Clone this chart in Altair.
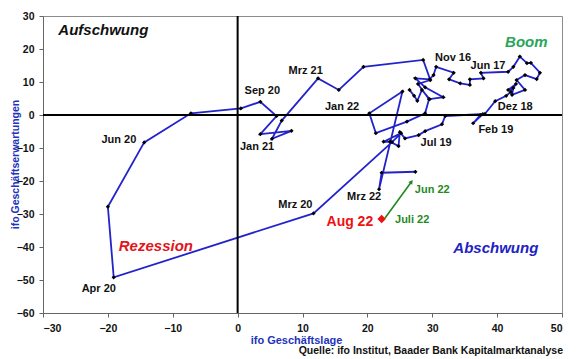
import altair as alt
import pandas as pd

FONT = "Liberation Sans"

# ---- data: ifo Geschäftslage (x) and ifo Geschäftserwartungen (y), monthly ----
months = [
    "Jan 16", "Feb 16", "Mrz 16", "Apr 16", "Mai 16", "Jun 16", "Jul 16", "Aug 16", "Sep 16", "Okt 16", "Nov 16", "Dez 16",
    "Jan 17", "Feb 17", "Mrz 17", "Apr 17", "Mai 17", "Jun 17", "Jul 17", "Aug 17", "Sep 17", "Okt 17", "Nov 17", "Dez 17",
    "Jan 18", "Feb 18", "Mrz 18", "Apr 18", "Mai 18", "Jun 18", "Jul 18", "Aug 18", "Sep 18", "Okt 18", "Nov 18", "Dez 18",
    "Jan 19", "Feb 19", "Mrz 19", "Apr 19", "Mai 19", "Jun 19", "Jul 19", "Aug 19", "Sep 19", "Okt 19", "Nov 19", "Dez 19",
    "Jan 20", "Feb 20", "Mrz 20", "Apr 20", "Mai 20", "Jun 20", "Jul 20", "Aug 20", "Sep 20", "Okt 20", "Nov 20", "Dez 20",
    "Jan 21", "Feb 21", "Mrz 21", "Apr 21", "Mai 21", "Jun 21", "Jul 21", "Aug 21", "Sep 21", "Okt 21", "Nov 21", "Dez 21",
    "Jan 22", "Feb 22", "Mrz 22", "Apr 22", "Mai 22",
]
lage = [
    26.5, 27.2, 27.7, 28.4, 29.6, 31.7, 28.9, 27.4, 29.6, 30.2, 30.6, 33.3,
    32.6, 34.3, 35.8, 35.8, 37.9, 37.5, 41.7, 42.5, 43.5, 44.6, 45.2, 46.6,
    46.1, 44.3, 43.0, 44.3, 42.3, 42.5, 41.7, 42.9, 42.1, 41.4, 39.7, 38.1,
    37.4, 36.3, 37.8, 32.0, 31.5, 28.9, 27.9, 25.8, 25.0, 24.8, 23.5, 22.5,
    25.2, 23.8, 11.7, -19.1, -20.0, -14.4, -7.2, 0.5, 3.5, 6.0, 3.5, 8.3,
    5.3, 6.8, 12.4, 15.6, 19.4, 28.6, 29.7, 27.8, 29.5, 28.9, 26.1, 21.3,
    20.3, 25.4, 21.8, 22.2, 27.4,
]
erwartungen = [
    7.6, 5.8, 4.3, 7.6, 4.8, 5.4, 8.4, 11.1, 10.8, 12.1, 14.6, 12.8,
    10.8, 9.6, 9.1, 10.8, 11.1, 12.8, 13.1, 14.6, 17.7, 15.7, 15.8, 12.8,
    10.9, 12.1, 10.6, 7.6, 6.1, 8.2, 7.6, 9.4, 7.0, 5.8, 4.2, 0.3,
    0.0, -2.5, 0.3, -0.3, -2.8, -4.9, -6.1, -7.1, -5.2, -9.4, -8.1, -8.1,
    -5.5, -8.2, -29.8, -49.2, -27.8, -8.3, 0.5, 2.0, 4.0, -0.3, -5.8, -4.8,
    -7.2, -1.7, 11.1, 7.6, 14.6, 16.7, 10.6, 9.4, 4.8, 0.5, -2.0, -5.5,
    0.5, 7.1, -22.5, -17.5, -17.2,
]

# latest months (green segment) and current month (red)
recent_months = ["Jun 22", "Jul 22"]
recent_lage = [26.8, 22.7]
recent_erw = [-20.2, -31.3]
current_month = ["Aug 22"]
current_lage = [22.2]
current_erw = [-31.5]

# month annotations (text, anchor in data units)
lbl_text = ["Sep 20", "Mrz 21", "Nov 16", "Jun 17", "Jan 22", "Dez 18", "Feb 19", "Jul 19",
            "Jan 21", "Jun 20", "Mrz 20", "Mrz 22", "Apr 20"]
lbl_x = [3.8, 10.5, 33.2, 38.6, 16.1, 42.8, 39.8, 30.6, 3.0, -18.3, 8.9, 19.5, -21.4]
lbl_y = [7.3, 13.3, 17.3, 14.8, 2.4, 2.4, -4.5, -8.5, -9.7, -7.6, -27.3, -24.8, -52.7]

green_text = ["Jun 22", "Juli 22"]
green_x = [30.0, 26.9]
green_y = [-22.7, -31.8]

red_text = ["Aug 22"]
red_x = [17.3]
red_y = [-32.4]

quad_text = ["Aufschwung", "Boom", "Rezession", "Abschwung"]
quad_x = [-20.7, 44.5, -12.6, 39.8]
quad_y = [25.8, 22.1, -39.7, -40.3]
quad_color = ["#111111", "#2aa55a", "#e3141b", "#2121c4"]

zero_line = [0]
x_ticks = [-30, -20, -10, 0, 10, 20, 30, 40, 50]
y_ticks = [-60, -50, -40, -30, -20, -10, 0, 10, 20, 30]

# ---- tables ----
df = pd.DataFrame({"i": range(len(months)), "monat": months, "lage": lage, "erw": erwartungen})
df_recent = pd.DataFrame({"i": range(2), "monat": recent_months, "lage": recent_lage, "erw": recent_erw})
df_arrow = df_recent.iloc[[0]]
df_cur = pd.DataFrame({"monat": current_month, "lage": current_lage, "erw": current_erw})
df_lbl = pd.DataFrame({"t": lbl_text, "lage": lbl_x, "erw": lbl_y})
df_green = pd.DataFrame({"t": green_text, "lage": green_x, "erw": green_y})
df_red = pd.DataFrame({"t": red_text, "lage": red_x, "erw": red_y})
df_quad = pd.DataFrame({"t": quad_text, "lage": quad_x, "erw": quad_y, "c": quad_color})
df_zero = pd.DataFrame({"lage": zero_line, "erw": zero_line})

xs = alt.Scale(domain=[-30, 50], nice=False, zero=False)
ys = alt.Scale(domain=[-60, 30], nice=False, zero=False)

x_axis = alt.Axis(values=x_ticks, title="ifo Geschäftslage", grid=False, format="d",
                  titleColor="#2233bb", titleFont=FONT, titleFontSize=11, titleFontWeight="bold",
                  titleX=253, titleY=21, titleBaseline="top", titleAlign="center",
                  labelFont=FONT, labelFontSize=10.5, labelFontWeight="bold", labelColor="#111",
                  tickSize=4, labelPadding=6, domainColor="#666", tickColor="#666")
y_axis = alt.Axis(values=y_ticks, title="ifo Geschäftserwartungen", grid=False, format="d",
                  titleColor="#2233bb", titleFont=FONT, titleFontSize=10.5, titleFontWeight="bold",
                  titleX=-23, titleY=148, titleAngle=-90, titleAlign="center", titleBaseline="bottom",
                  labelFont=FONT, labelFontSize=10.5, labelFontWeight="bold", labelColor="#111",
                  tickSize=4, labelPadding=5, domainColor="#666", tickColor="#666")

X = lambda: alt.X("lage:Q", scale=xs, axis=x_axis)
Y = lambda: alt.Y("erw:Q", scale=ys, axis=y_axis)

vline = alt.Chart(df_zero).mark_rule(color="black", strokeWidth=2).encode(x=X())
hline = alt.Chart(df_zero).mark_rule(color="black", strokeWidth=2).encode(y=Y())

line = alt.Chart(df).mark_line(color="#2323cc", strokeWidth=1.8).encode(
    x=X(), y=Y(), order="i:Q")
pts = alt.Chart(df).mark_point(shape="diamond", filled=True, color="black", size=18, opacity=1).encode(
    x=X(), y=Y())

gline = alt.Chart(df_recent).mark_line(color="#1f8a1f", strokeWidth=1.6).encode(x=X(), y=Y(), order="i:Q")
garrow = alt.Chart(df_arrow).mark_point(shape="triangle-up", filled=True, color="#1f8a1f", size=22,
                                        angle=36, opacity=1).encode(x=X(), y=Y())
red = alt.Chart(df_cur).mark_point(shape="diamond", filled=True, color="#ee1111", size=70, opacity=1).encode(
    x=X(), y=Y())

lbls = alt.Chart(df_lbl).mark_text(font=FONT, fontSize=11, fontWeight="bold", color="#111").encode(
    x=X(), y=Y(), text="t:N")
glbls = alt.Chart(df_green).mark_text(font=FONT, fontSize=11, fontWeight="bold", color="#1f8a1f").encode(
    x=X(), y=Y(), text="t:N")
rlbls = alt.Chart(df_red).mark_text(font=FONT, fontSize=14, fontWeight="bold", color="#ee1111").encode(
    x=X(), y=Y(), text="t:N")
qlbls = alt.Chart(df_quad).mark_text(font=FONT, fontSize=15, fontWeight="bold", fontStyle="italic").encode(
    x=X(), y=Y(), text="t:N", color=alt.Color("c:N", scale=None))

source = alt.Chart(pd.DataFrame({"t": ["Quelle: ifo Institut, Baader Bank Kapitalmarktanalyse"]})).mark_text(
    font=FONT, fontSize=10.5, fontWeight="bold", color="#111", align="right", baseline="middle").encode(
    x=alt.value(520), y=alt.value(335), text="t:N")

chart = alt.layer(line, vline, hline, pts, gline, garrow, red, lbls, glbls, rlbls, qlbls, source).properties(
    width=519, height=297, autosize=alt.AutoSizeParams(type="none"),
    padding={"left": 35, "top": 8, "right": 10, "bottom": 44},
    background="white",
).configure_view(stroke="#8c8c8c", strokeWidth=1)

chart.save("out.html", embed_options={"renderer": "svg", "actions": False})
